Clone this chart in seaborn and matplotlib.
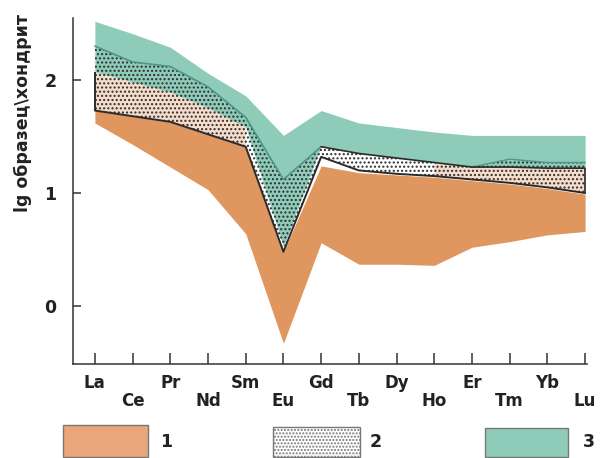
import numpy as np
import pandas as pd
import matplotlib
matplotlib.use("Agg")
import matplotlib.pyplot as plt
from matplotlib.patches import Rectangle
import seaborn as sns

# ---------------- data ----------------
elements = ['La', 'Ce', 'Pr', 'Nd', 'Sm', 'Eu', 'Gd', 'Tb', 'Dy', 'Ho', 'Er', 'Tm', 'Yb', 'Lu']
field1_low = [1.62, 1.43, 1.23, 1.03, 0.64, -0.33, 0.56, 0.37, 0.37, 0.36, 0.52, 0.57, 0.63, 0.66]
field1_high = [1.73, 1.68, 1.63, 1.52, 1.41, 0.48, 1.24, 1.18, 1.16, 1.14, 1.11, 1.08, 1.04, 0.99]
field2_low = [1.73, 1.68, 1.63, 1.52, 1.41, 0.48, 1.32, 1.20, 1.17, 1.15, 1.12, 1.09, 1.05, 1.00]
field2_high = [2.07, 1.98, 1.89, 1.75, 1.58, 0.52, 1.41, 1.35, 1.31, 1.27, 1.23, 1.23, 1.22, 1.22]
field3_low = [2.30, 2.16, 2.12, 1.94, 1.67, 1.12, 1.41, 1.35, 1.31, 1.27, 1.23, 1.30, 1.27, 1.27]
field3_high = [2.52, 2.41, 2.29, 2.06, 1.86, 1.51, 1.73, 1.62, 1.58, 1.54, 1.51, 1.51, 1.51, 1.51]
y_ticks = [0, 1, 2]
legend_labels = ['1', '2', '3']

# ---------------- style ----------------
ORANGE = '#E0975F'
ORANGE_LEG = '#E8A67A'
TEAL = '#8ECCB9'
PINK = '#F6DCCB'
DARKTEAL = '#4F9686'
INK = '#2B2B2B'

sns.set_theme(style='white')
plt.rcParams['font.family'] = ['DejaVu Sans']
plt.rcParams['hatch.linewidth'] = 1.0
plt.rcParams['hatch.color'] = '#2E2E2E'

df = pd.DataFrame({
    'pos': np.arange(len(elements)),
    'el': elements,
    'f1lo': field1_low, 'f1hi': field1_high,
    'f2lo': field2_low, 'f2hi': field2_high,
    'f3lo': field3_low, 'f3hi': field3_high,
})
x = df['pos'].to_numpy()

fig = plt.figure(figsize=(6.02, 4.58), dpi=100)
ax = fig.add_axes([73 / 602, (458 - 364) / 458, (587 - 73) / 602, (364 - 18) / 458])

# field 1 (orange)
ax.fill_between(x, df['f1lo'], df['f1hi'], color=ORANGE, lw=0, zorder=1)
# field 3 (teal) above field 2
ax.fill_between(x, df['f2hi'], df['f3hi'], color=TEAL, lw=0, zorder=2)
# field 2 (white / pinkish)
ax.fill_between(x, df['f2lo'], df['f2hi'], color='white', lw=0, zorder=3)
pink_mask = df['el'].isin(['La', 'Ce', 'Pr', 'Nd', 'Sm', 'Ho', 'Er', 'Tm', 'Yb', 'Lu']).to_numpy()
ax.fill_between(x, df['f2lo'], df['f2hi'], where=pink_mask, color=PINK, lw=0, zorder=3)
# dotted overlap (field 2 + lower part of field 3)
ax.fill_between(x, df['f2lo'], df['f3lo'], facecolor='none', edgecolor='#2E2E2E',
                hatch='....', lw=0, zorder=4)

# outlines
left = df.iloc[:7]
right = df.iloc[10:]
sns.lineplot(data=left, x='pos', y='f3lo', ax=ax, color=DARKTEAL, lw=1.2, zorder=5,
             sort=False, estimator=None)
sns.lineplot(data=right, x='pos', y='f3lo', ax=ax, color=DARKTEAL, lw=1.0, zorder=5,
             sort=False, estimator=None)
sns.lineplot(data=df, x='pos', y='f2lo', ax=ax, color=INK, lw=1.4, zorder=6,
             sort=False, estimator=None)
sns.lineplot(data=df.iloc[6:], x='pos', y='f2hi', ax=ax, color=INK, lw=1.2, zorder=6,
             sort=False, estimator=None)
ax.vlines([x[0]], field2_low[0], field2_high[0], color=INK, lw=1.4, zorder=6)
ax.vlines([x[-1]], field2_low[-1], field2_high[-1], color=INK, lw=1.2, zorder=6)

# axes
ax.set_xlim(-0.58, 13.05)
ax.set_ylim(-0.513, 2.549)
ax.set_xticks(x)
ax.set_xticklabels(elements, fontsize=12, fontweight='bold', color='#222222')
ax.set_yticks(y_ticks)
ax.set_yticklabels([str(v) for v in y_ticks], fontsize=12.5, fontweight='bold', color='#222222')
ax.tick_params(axis='x', direction='in', length=8, width=1.1, color='#333333', pad=7.5, bottom=True)
ax.tick_params(axis='y', direction='in', length=6, width=1.1, color='#333333', pad=12, left=True)
for i, tick in enumerate(ax.xaxis.get_major_ticks()):
    if i % 2 == 1:
        tick.set_pad(19.8)
for s in ['top', 'right']:
    ax.spines[s].set_visible(False)
for s in ['left', 'bottom']:
    ax.spines[s].set_linewidth(1.1)
    ax.spines[s].set_color('#333333')
ax.set_xlabel('')
ax.set_ylabel('lg образец\\хондрит', fontsize=12.5, fontweight='bold', color='#222222')
ax.yaxis.set_label_coords(-0.08, 0.725)
ax.grid(False)

# legend swatches
H = 458.0
W = 602.0
boxes = [(63, 148, 425, ORANGE_LEG, None), (273, 360, 427, 'white', '.....'), (485, 568, 428, TEAL, None)]
text_x = [160, 370, 583]
for (x0, x1, top, fc, hatch), lab, tx in zip(boxes, legend_labels, text_x):
    r = Rectangle((x0 / W, (H - 457) / H), (x1 - x0) / W, (457 - top) / H,
                  transform=fig.transFigure, facecolor=fc, edgecolor='#777777',
                  lw=1.0, hatch=hatch)
    fig.add_artist(r)
    fig.text(tx / W, (H - 442) / H, lab, fontsize=12.5, fontweight='bold',
             color='#222222', ha='left', va='center')

fig.savefig('out.png', dpi=100)
